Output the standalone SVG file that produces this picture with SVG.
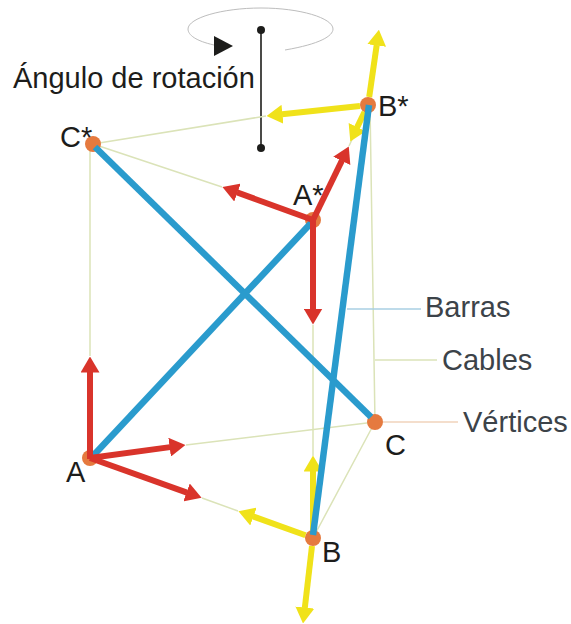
<svg xmlns="http://www.w3.org/2000/svg" width="571" height="624" viewBox="0 0 571 624">
<style>
text{font-family:"Liberation Sans",Arial,sans-serif;font-size:29px;fill:#1d1d1b}
.lg{fill:#3c4349}
.cable{stroke:#dbe3b8;stroke-width:1.5;fill:none}
.bar{stroke:#2a9bcd;stroke-width:6.5;fill:none}
.red{stroke:#d9342b;stroke-width:6;fill:none;marker-end:url(#hr)}
.yel{stroke:#f0e21a;stroke-width:6;fill:none;marker-end:url(#hy)}
.v{fill:#e57a3f}
</style>
<defs>
<marker id="hr" markerUnits="userSpaceOnUse" markerWidth="16" markerHeight="19" refX="0.5" refY="9.5" orient="auto"><path d="M0 0L16 9.5L0 19z" fill="#d9342b"/></marker>
<marker id="hy" markerUnits="userSpaceOnUse" markerWidth="16" markerHeight="19" refX="0.5" refY="9.5" orient="auto"><path d="M0 0L16 9.5L0 19z" fill="#f0e21a"/></marker>
</defs>
<rect width="571" height="624" fill="#fff"/>
<g id="rotation">
<path d="M285 50C320 44 333 36 333 29C333 18 300 8 261 8C222 8 188 18 188 29C188 35 196 41 214 45" fill="none" stroke="#bdbdbd" stroke-width="1"/>
<path d="M214 36L233 46L214 56z" fill="#1d1d1b"/>
<line x1="261" y1="30" x2="261" y2="148" stroke="#1d1d1b" stroke-width="1.6"/>
<circle cx="261" cy="30" r="4" fill="#1d1d1b"/>
<circle cx="261" cy="148" r="4" fill="#1d1d1b"/>
<text x="13" y="88">Ángulo de rotación</text>
</g>
<g id="cables">
<path class="cable" d="M90 144V356M93 144L266 116M93 144L222 187M349 146L368 105M370 105L375 422M313 325V456M186 445L375 422M202 498L238 511M313 538L375 422"/>
</g>
<g id="leaders">
<line x1="347" y1="309" x2="421" y2="309" stroke="#a9cfe3" stroke-width="1.5"/>
<line x1="375" y1="360" x2="437" y2="360" stroke="#dbe3b8" stroke-width="1.5"/>
<line x1="383" y1="422" x2="458" y2="422" stroke="#f0d3bb" stroke-width="1.5"/>
</g>
<g id="node-a"><circle class="v" cx="90" cy="458" r="8"/><text x="66" y="482">A</text></g>
<g id="node-b"><circle class="v" cx="313" cy="538" r="8"/><text x="322" y="562">B</text></g>
<g id="node-c"><circle class="v" cx="375" cy="422" r="8"/><text x="385" y="455">C</text></g>
<g id="node-a-star"><circle class="v" cx="313" cy="220" r="8"/><text x="293" y="205">A*</text></g>
<g id="node-b-star"><circle class="v" cx="368" cy="105" r="8"/><text x="378" y="116">B*</text></g>
<g id="node-c-star"><circle class="v" cx="93" cy="144" r="8"/><text x="60" y="147">C*</text></g>
<g id="connectors">
<path class="yel" d="M369.2 97L376.7 45"/>
<path class="yel" d="M360 106L282 114.3"/>
<path class="yel" d="M364.5 112L357 127.6"/>
<path class="yel" d="M313 530L313 471"/>
<path class="yel" d="M305.5 535.3L253 516.4"/>
<path class="yel" d="M312 546L304.8 608"/>
<path class="bar" d="M95 147L371 417"/>
<path class="bar" d="M369 105L313 535"/>
<path class="bar" d="M91 458L312 222"/>
<path class="red" d="M313 220L342 160.4"/>
<path class="red" d="M313 220L237 192.4"/>
<path class="red" d="M313 220L313 309"/>
<path class="red" d="M90 459L90 372"/>
<path class="red" d="M90 458L170.1 447.1"/>
<path class="red" d="M90 458L187 492.6"/>
</g>
<g id="legend">
<text class="lg" x="425" y="317">Barras</text>
<text class="lg" x="442" y="370">Cables</text>
<text class="lg" x="463" y="432">Vértices</text>
</g>
</svg>
